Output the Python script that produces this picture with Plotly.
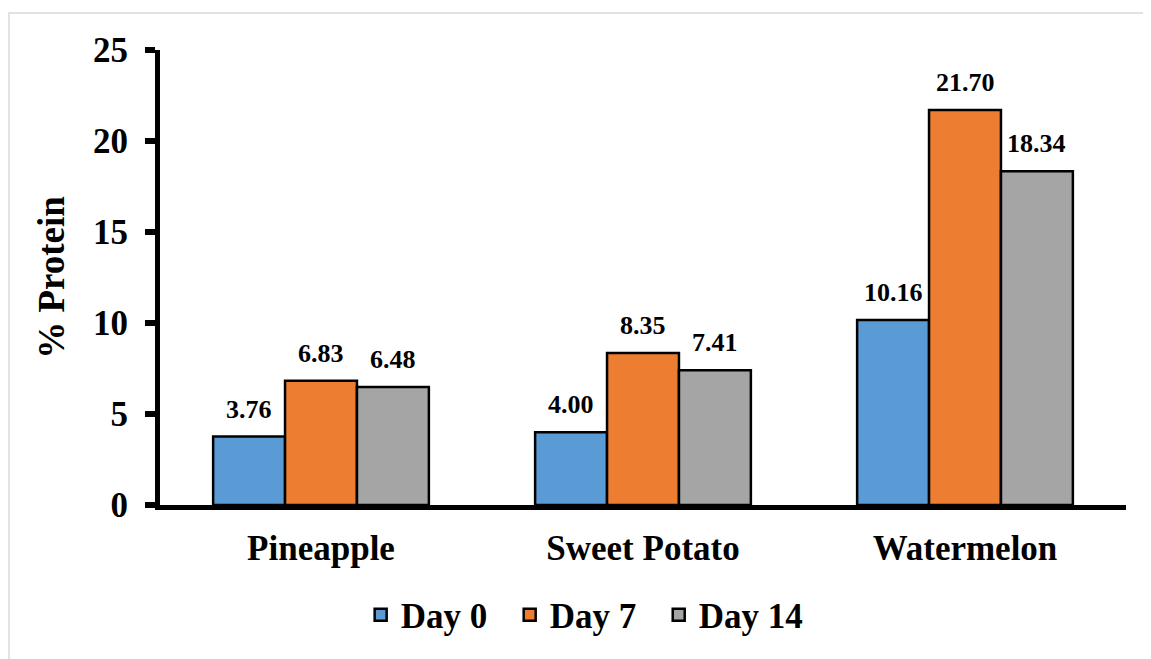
import plotly.graph_objects as go

categories = ["Pineapple", "Sweet Potato", "Watermelon"]
series_names = ["Day 0", "Day 7", "Day 14"]
day0 = [3.76, 4.00, 10.16]
day7 = [6.83, 8.35, 21.70]
day14 = [6.48, 7.41, 18.34]
colors = ["#5B9BD5", "#ED7D31", "#A5A5A5"]
y_ticks = [0, 5, 10, 15, 20, 25]

W, H = 1151, 659
ML, MR, MT, MB = 152, 33, 42, 162
FONT = "Times New Roman, Liberation Serif, serif"

fig = go.Figure()
all_series = [day0, day7, day14]
for k, (name, vals, col) in enumerate(zip(series_names, all_series, colors)):
    pad = "\u00a0\u00a0" if k < len(series_names) - 1 else ""
    fig.add_trace(go.Bar(
        x=categories, y=vals, name=f"<b>{name}</b>{pad}",
        marker=dict(color=col, line=dict(color="black", width=2.5)),
    ))

# data labels
plot_w = W - ML - MR
cat_w = plot_w / len(categories)
bargap = 0.33
bar_w = cat_w * (1 - bargap) / 3
for i, vals in enumerate(all_series):
    for c, v in zip(categories, vals):
        fig.add_annotation(
            x=c, y=v, text=f"<b>{v:.2f}</b>", showarrow=False,
            yanchor="bottom", xanchor="center",
            xshift=(i - 1) * bar_w, yshift=11,
            font=dict(family=FONT, size=26, color="black"),
        )

plot_h = H - MT - MB
fig.add_shape(
    type="rect", xref="paper", yref="paper",
    x0=(1 - ML) / plot_w, x1=(W + 5 - ML) / plot_w,
    y0=(MT + plot_h - H - 5) / plot_h, y1=(MT + plot_h - 5) / plot_h,
    line=dict(color="#E2E2E2", width=2), fillcolor="rgba(0,0,0,0)",
    layer="below",
)

fig.update_layout(
    width=W, height=H,
    margin=dict(l=ML, r=MR, t=MT, b=MB, autoexpand=False),
    paper_bgcolor="white", plot_bgcolor="white",
    barmode="group", bargap=bargap, bargroupgap=0,
    font=dict(family=FONT, color="black"),
    showlegend=True,
    legend=dict(
        orientation="h", xref="container", yref="container",
        x=0.501, xanchor="center", y=0.079, yanchor="middle",
        font=dict(family=FONT, size=35, color="black"),
        itemwidth=30, tracegroupgap=0,
    ),
    xaxis=dict(
        showline=True, linecolor="black", linewidth=5,
        ticks="", showgrid=False, zeroline=False,
        tickfont=dict(family=FONT, size=35, color="black"),
        ticklabelstandoff=8,
        tickprefix="<b>", ticksuffix="</b>",
    ),
    yaxis=dict(
        range=[0, 25], tickvals=y_ticks,
        ticktext=[f"<b>{t}</b>" for t in y_ticks],
        showline=True, linecolor="black", linewidth=5,
        ticks="outside", ticklen=10, tickwidth=6, tickcolor="black",
        showgrid=False, zeroline=False,
        tickfont=dict(family=FONT, size=35, color="black"),
        ticklabelstandoff=10,
        title=dict(text="<b>% Protein</b>", font=dict(family=FONT, size=37, color="black"), standoff=19),
    ),
)

fig.write_html("out.html")
